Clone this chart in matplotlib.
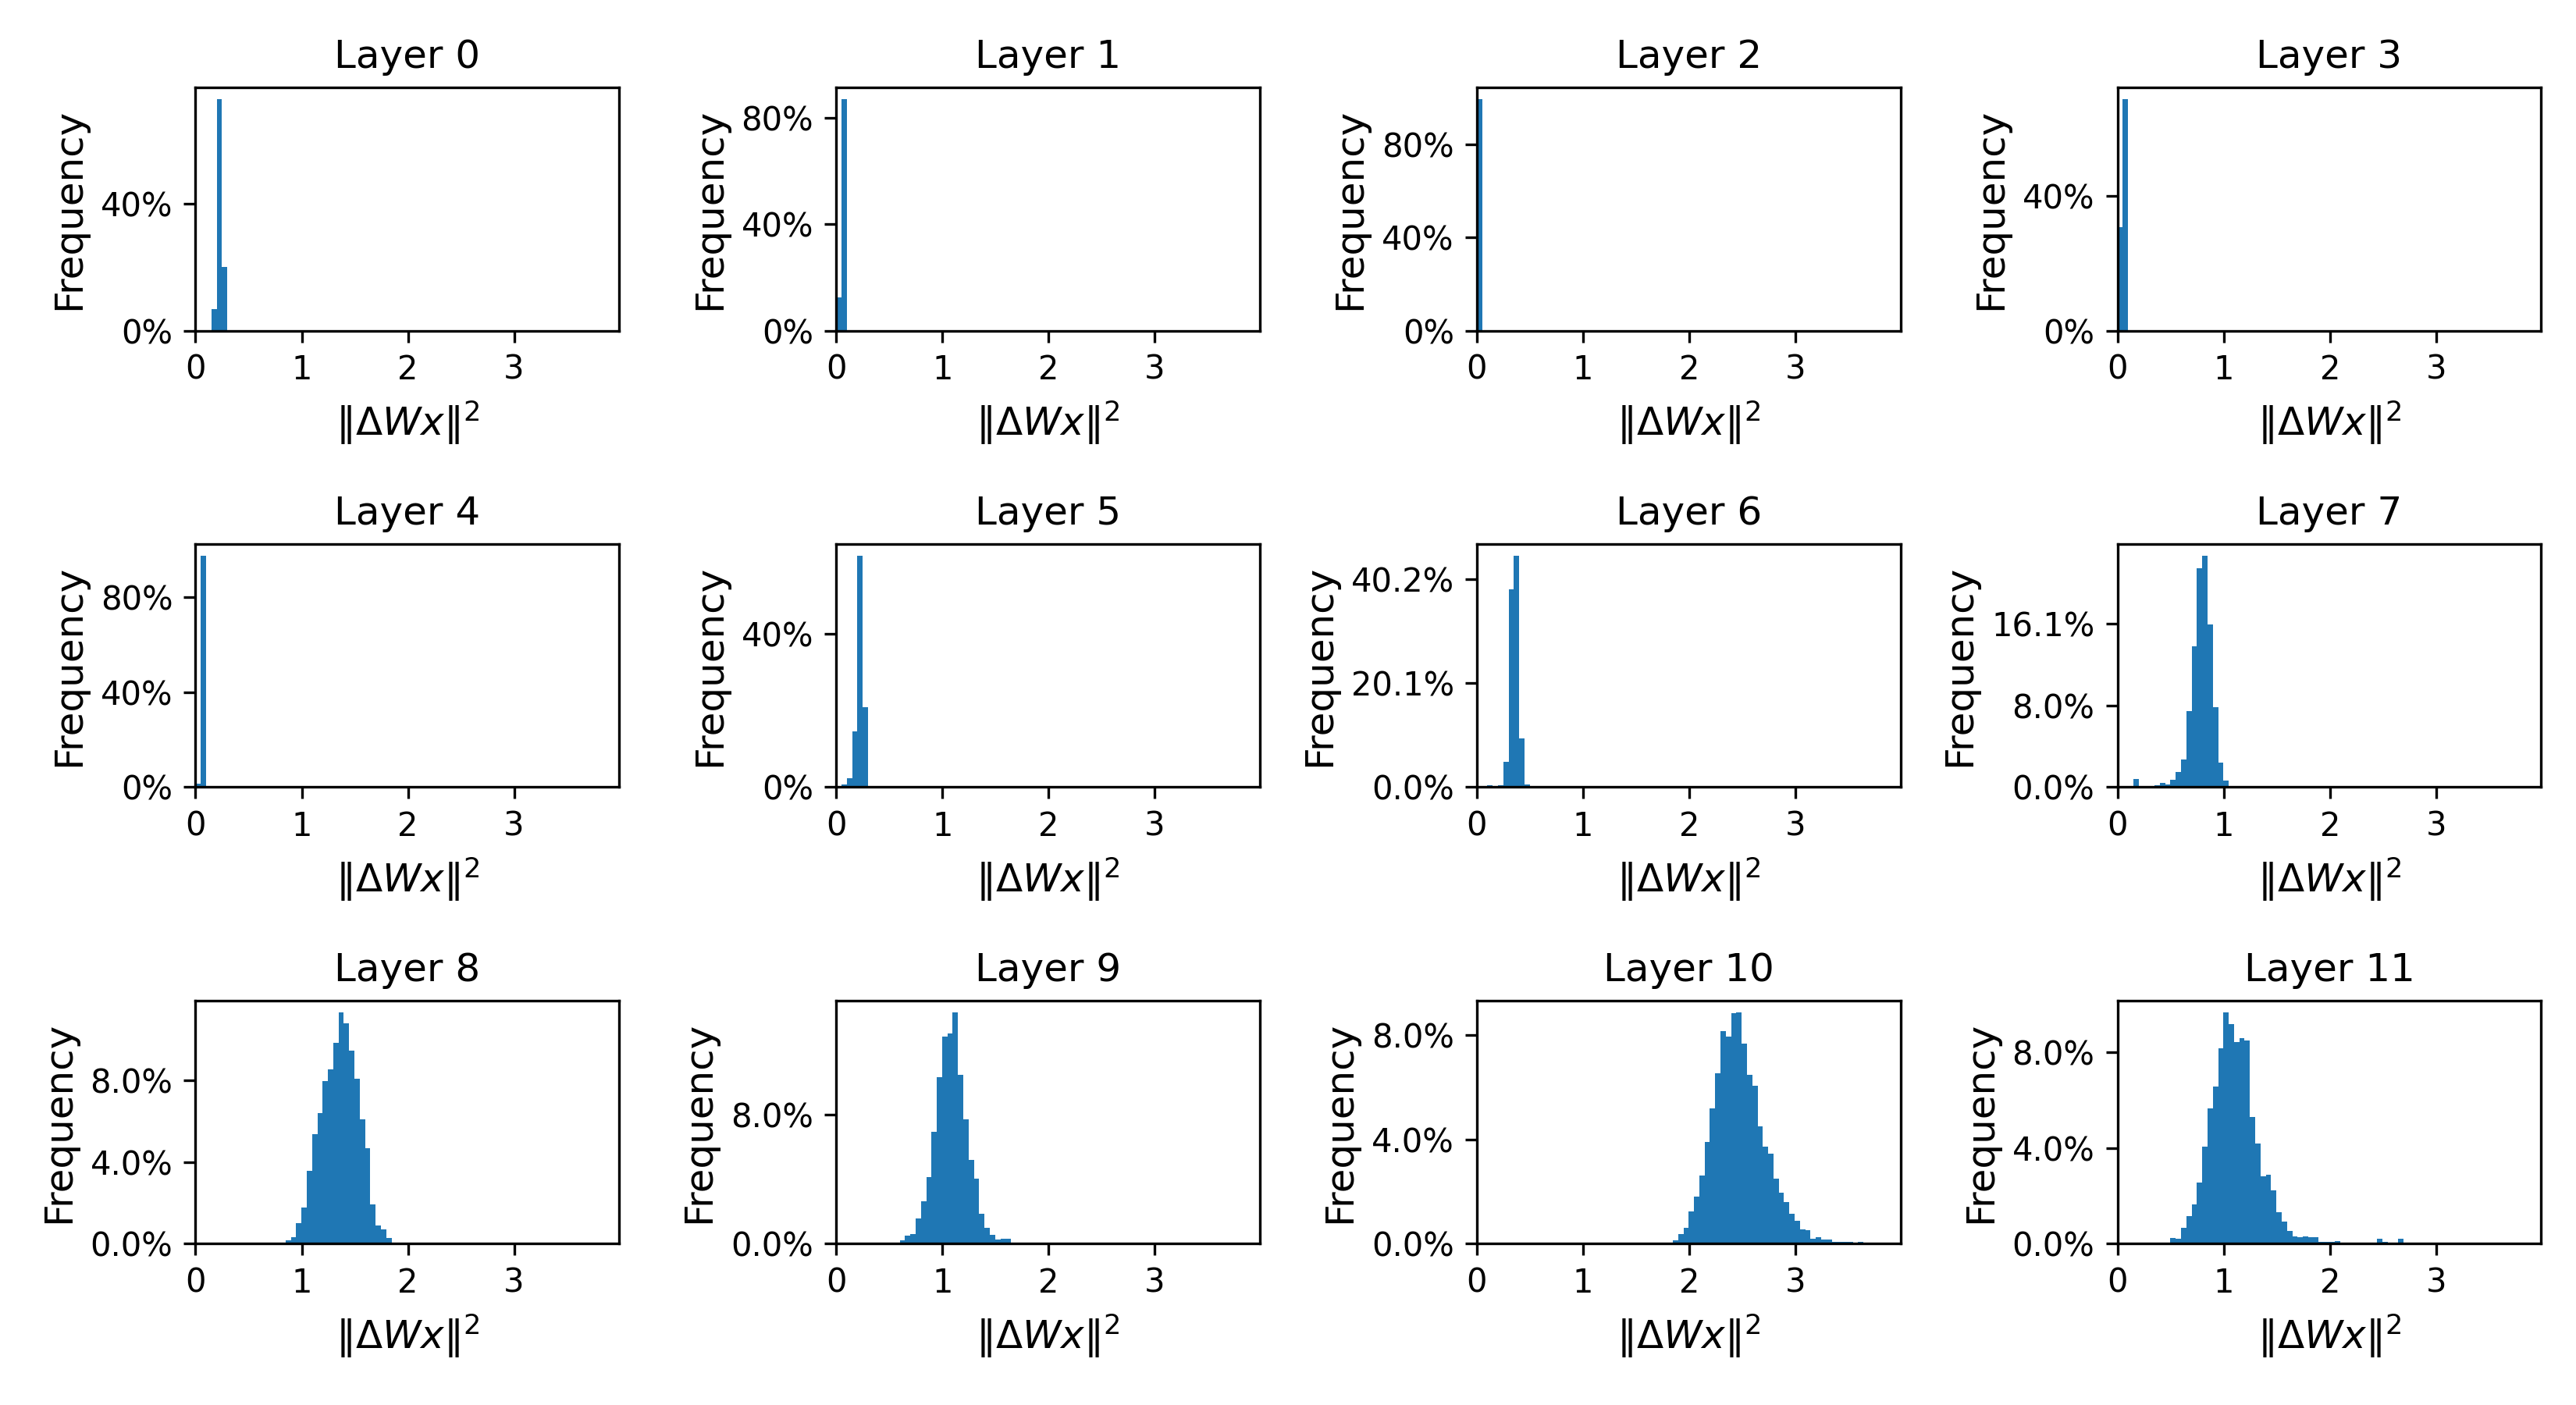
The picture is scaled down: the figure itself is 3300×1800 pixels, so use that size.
import numpy as np
import matplotlib
matplotlib.use("Agg")
import matplotlib.pyplot as plt
from matplotlib.ticker import PercentFormatter

# Shared histogram bins (same edges for every layer)
X_MAX = 3.99
NUM_BINS = 80
Y_UNIT = 0.0402  # percent axis: one y unit shows as 4.02%

# Frequency per bin in percent, starting at the given bin index
layer0_first_bin = 3
layer0_pct = [6.8, 73.2, 20.1]

layer1_first_bin = 0
layer1_pct = [12.5, 87.4]

layer2_first_bin = 0
layer2_pct = [100.0]

layer3_first_bin = 0
layer3_pct = [30.9, 69.1]

layer4_first_bin = 0
layer4_pct = [1.6, 97.8, 0.6]

layer5_first_bin = 1
layer5_pct = [0.75, 2.4, 14.6, 60.8, 21.0, 0.15]

layer6_first_bin = 2
layer6_pct = [0.35, 0, 0.35, 4.9, 38.3, 44.8, 9.4, 0.5]

layer7_first_bin = 3
layer7_pct = [0.8, 0, 0.05, 0.05, 0.2, 0.45, 0.3, 0.7, 1.5, 2.7, 7.5, 13.9,
              21.6, 22.8, 16.0, 7.9, 2.4, 0.65, 0.1]

layer8_first_bin = 17
layer8_pct = [0.17, 0.33, 1.03, 1.8, 3.58, 5.39, 6.44, 8.0, 8.58, 9.9, 11.4,
              10.84, 9.51, 8.12, 6.13, 4.72, 1.94, 0.91, 0.72, 0.3, 0.06, 0.06]

layer9_first_bin = 12
layer9_pct = [0.21, 0.49, 0.6, 1.57, 2.65, 4.16, 6.98, 10.39, 12.92, 13.13,
              14.43, 10.54, 7.76, 5.23, 4.06, 1.87, 0.99, 0.55, 0.26, 0.31,
              0.31, 0.06]

layer10_first_bin = 37
layer10_pct = [0.13, 0.37, 0.61, 1.25, 1.82, 2.63, 3.93, 5.23, 6.58, 8.21,
               8.0, 8.9, 8.93, 7.73, 6.52, 6.1, 4.53, 3.75, 3.48, 2.51, 1.97,
               1.61, 1.16, 0.88, 0.55, 0.52, 0.19, 0.25, 0.16, 0.16, 0.08,
               0.06, 0.06, 0.06, 0, 0.06]

layer11_first_bin = 2
layer11_pct = [0.06, 0.06, 0.06, 0, 0, 0, 0, 0.06, 0.24, 0.21, 0.67, 1.16,
               1.65, 2.57, 4.08, 5.69, 6.61, 8.22, 9.73, 9.23, 8.48, 8.64,
               8.54, 5.33, 4.21, 2.83, 2.9, 2.24, 1.32, 0.93, 0.54, 0.31,
               0.27, 0.31, 0.27, 0.27, 0.08, 0.08, 0.08, 0.11, 0, 0, 0.06,
               0, 0, 0, 0, 0.21, 0.08, 0.06, 0.06, 0.21, 0.06, 0, 0, 0, 0, 0,
               0.06, 0, 0, 0, 0, 0, 0, 0, 0, 0, 0, 0, 0, 0.06]

layers = [
    (layer0_first_bin, layer0_pct),
    (layer1_first_bin, layer1_pct),
    (layer2_first_bin, layer2_pct),
    (layer3_first_bin, layer3_pct),
    (layer4_first_bin, layer4_pct),
    (layer5_first_bin, layer5_pct),
    (layer6_first_bin, layer6_pct),
    (layer7_first_bin, layer7_pct),
    (layer8_first_bin, layer8_pct),
    (layer9_first_bin, layer9_pct),
    (layer10_first_bin, layer10_pct),
    (layer11_first_bin, layer11_pct),
]


def main():
    bin_edges = np.linspace(0, X_MAX, NUM_BINS + 1)
    bin_centers = (bin_edges[:-1] + bin_edges[1:]) / 2

    fig, axes = plt.subplots(3, 4, figsize=(11, 6), dpi=300)
    fig.subplots_adjust(left=0.0759, right=0.9865, top=0.9376, bottom=0.1148,
                        wspace=0.512, hspace=0.879)

    for i, (first_bin, pct) in enumerate(layers):
        ax = axes.flat[i]
        centers = bin_centers[first_bin:first_bin + len(pct)]
        heights = np.array(pct) / 100 / Y_UNIT
        ax.hist(centers, bins=bin_edges, weights=heights, color='#1f77b4')
        ax.set_xlim(0, X_MAX)
        ax.yaxis.set_major_formatter(PercentFormatter(xmax=1 / Y_UNIT))
        ax.set_title(f'Layer {i}', fontsize=12)
        ax.set_xlabel(r'$\|\Delta W x\|^2$', fontsize=12)
        ax.set_ylabel('Frequency', fontsize=12)

    fig.savefig('out.png', dpi=300)


if __name__ == "__main__":
    main()
